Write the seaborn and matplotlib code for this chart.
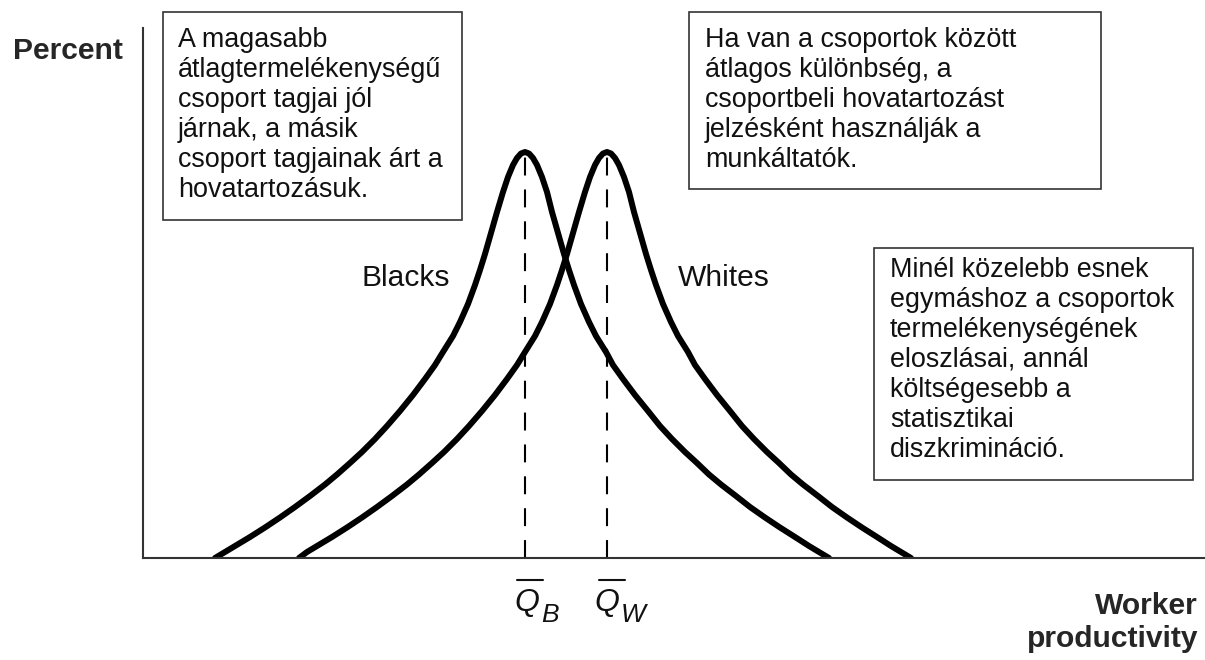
import seaborn as sns
import matplotlib.pyplot as plt
from matplotlib import font_manager
from matplotlib.patches import Rectangle
from matplotlib.lines import Line2D

# curve points (productivity, percent)
prod_blacks = [7.2, 8.2, 9.2, 10.7, 12.2, 13.7, 15.2, 16.7, 18.2, 19.4, 20.7, 21.9, 23.2, 24.4, 25.7, 27.0, 28.2,
               29.2, 30.0, 31.0, 31.7, 32.5, 33.2, 33.7, 34.2, 34.8, 35.4, 36.0, 36.5, 37.0, 37.4, 37.8, 38.2,
               38.6, 39.0, 39.4, 39.9, 40.4, 40.9, 41.5, 42.1, 42.6, 43.1, 43.8, 44.6, 45.3, 46.3, 47.0, 48.0,
               49.2, 50.5, 51.7, 52.9, 54.2, 55.4, 56.6, 57.8, 59.3, 60.7, 62.2, 63.7, 65.2, 66.6, 67.6, 68.6]
pct_blacks = [0.0, 0.6, 1.2, 2.1, 3.05, 4.05, 5.1, 6.2, 7.35, 8.35, 9.5, 10.6, 11.9, 13.2, 14.7, 16.3, 17.9,
              19.3, 20.6, 22.2, 23.6, 25.4, 27.3, 28.8, 30.4, 32.5, 34.6, 36.6, 38.1, 39.3, 40.0, 40.45, 40.6,
              40.45, 40.0, 39.3, 38.1, 36.6, 34.6, 32.5, 30.4, 28.8, 27.3, 25.4, 23.6, 22.2, 20.6, 19.3, 17.9,
              16.3, 14.7, 13.2, 11.9, 10.6, 9.5, 8.35, 7.35, 6.2, 5.1, 4.05, 3.05, 2.1, 1.2, 0.6, 0.0]

prod_whites = [15.6, 16.4, 17.4, 18.9, 20.4, 21.9, 23.4, 24.9, 26.4, 27.6, 28.9, 30.1, 31.4, 32.6, 33.9, 35.2, 36.4,
               37.4, 38.2, 39.2, 39.9, 40.7, 41.4, 41.9, 42.4, 43.0, 43.6, 44.2, 44.7, 45.2, 45.6, 46.0, 46.4,
               46.8, 47.2, 47.6, 48.1, 48.6, 49.1, 49.7, 50.3, 50.8, 51.3, 52.0, 52.8, 53.5, 54.5, 55.2, 56.2,
               57.4, 58.7, 59.9, 61.1, 62.4, 63.6, 64.8, 66.0, 67.5, 68.9, 70.4, 71.9, 73.4, 74.8, 75.8, 76.8]
pct_whites = [0.0, 0.6, 1.2, 2.1, 3.05, 4.05, 5.1, 6.2, 7.35, 8.35, 9.5, 10.6, 11.9, 13.2, 14.7, 16.3, 17.9,
              19.3, 20.6, 22.2, 23.6, 25.4, 27.3, 28.8, 30.4, 32.5, 34.6, 36.6, 38.1, 39.3, 40.0, 40.45, 40.6,
              40.45, 40.0, 39.3, 38.1, 36.6, 34.6, 32.5, 30.4, 28.8, 27.3, 25.4, 23.6, 22.2, 20.6, 19.3, 17.9,
              16.3, 14.7, 13.2, 11.9, 10.6, 9.5, 8.35, 7.35, 6.2, 5.1, 4.05, 3.05, 2.1, 1.2, 0.6, 0.0]

mean_blacks = 38.2
mean_whites = 46.4

box_left = ["A magasabb", "átlagtermelékenységű", "csoport tagjai jól",
            "járnak, a másik", "csoport tagjainak árt a", "hovatartozásuk."]
box_top = ["Ha van a csoportok között", "átlagos különbség, a",
           "csoportbeli hovatartozást", "jelzésként használják a", "munkáltatók."]
box_right = ["Minél közelebb esnek", "egymáshoz a csoportok", "termelékenységének",
             "eloszlásai, annál", "költségesebb a", "statisztikai", "diszkrimináció."]

W, H = 1205, 660

sns.set_style("white")
plt.rcParams["font.family"] = ["Liberation Sans", "DejaVu Sans"]

names = {f.name for f in font_manager.fontManager.ttflist}
if "Liberation Sans Narrow" in names:
    head_font, head_size = ["Liberation Sans Narrow", "Liberation Sans"], 26.6
else:
    head_font, head_size = ["Liberation Sans", "DejaVu Sans"], 21.6

fig = plt.figure(figsize=(W / 100, H / 100), dpi=100)
ax = fig.add_axes([143 / W, 1 - 558 / H, (W - 143) / W, (558 - 28) / H])

sns.lineplot(x=prod_blacks, y=pct_blacks, ax=ax, color="black", lw=4.3,
             estimator=None, sort=False, solid_joinstyle="round")
sns.lineplot(x=prod_whites, y=pct_whites, ax=ax, color="black", lw=4.3,
             estimator=None, sort=False, solid_joinstyle="round")
ax.vlines([mean_blacks, mean_whites], 0, [max(pct_blacks), max(pct_whites)],
          colors="black", lw=1.5, linestyles=[(0, (8.6, 6.7))])

ax.set_xlim(0, 106.2)
ax.set_ylim(0, 53)
ax.set_xticks([])
ax.set_yticks([])
sns.despine(ax=ax)
for s in ["left", "bottom"]:
    ax.spines[s].set_color("#333333")
    ax.spines[s].set_linewidth(1.5)


def put(x, y, s, **kw):
    fig.text(x / W, 1 - y / H, s, va="baseline", **kw)


def box(x0, y0, x1, y1):
    fig.add_artist(Rectangle((x0 / W, 1 - y1 / H), (x1 - x0) / W, (y1 - y0) / H,
                             transform=fig.transFigure, fill=False, ec="#333333", lw=1.2))


def block(x, y, lines):
    for i, line in enumerate(lines):
        put(x, y + i * 30, line, fontsize=19.4, color="#111111")


box(163, 12, 462, 220)
block(178, 47, box_left)
box(689, 12, 1101, 189)
block(705, 47, box_top)
box(874, 248, 1193, 480)
block(890, 277, box_right)

put(13, 59, "Percent", fontsize=head_size, fontweight="bold", family=head_font)
put(1198, 614, "Worker", fontsize=head_size, fontweight="bold", family=head_font, ha="right")
put(1198, 647, "productivity", fontsize=head_size, fontweight="bold", family=head_font, ha="right")

put(361, 286, "Blacks", fontsize=21.6, color="#111111")
put(678, 286, "Whites", fontsize=21.6, color="#111111")

# mean labels with overline
put(514, 611, "Q", fontsize=23, style="italic", color="#111111")
put(541, 622, "B", fontsize=19, style="italic", color="#111111")
put(594, 611, "Q", fontsize=23, style="italic", color="#111111")
put(621, 622, "W", fontsize=19, style="italic", color="#111111")
for x0, x1 in [(517, 543), (599, 625)]:
    fig.add_artist(Line2D([x0 / W, x1 / W], [1 - 580 / H, 1 - 580 / H],
                          transform=fig.transFigure, color="#111111", lw=1.5))

fig.savefig("out.png", dpi=100)
